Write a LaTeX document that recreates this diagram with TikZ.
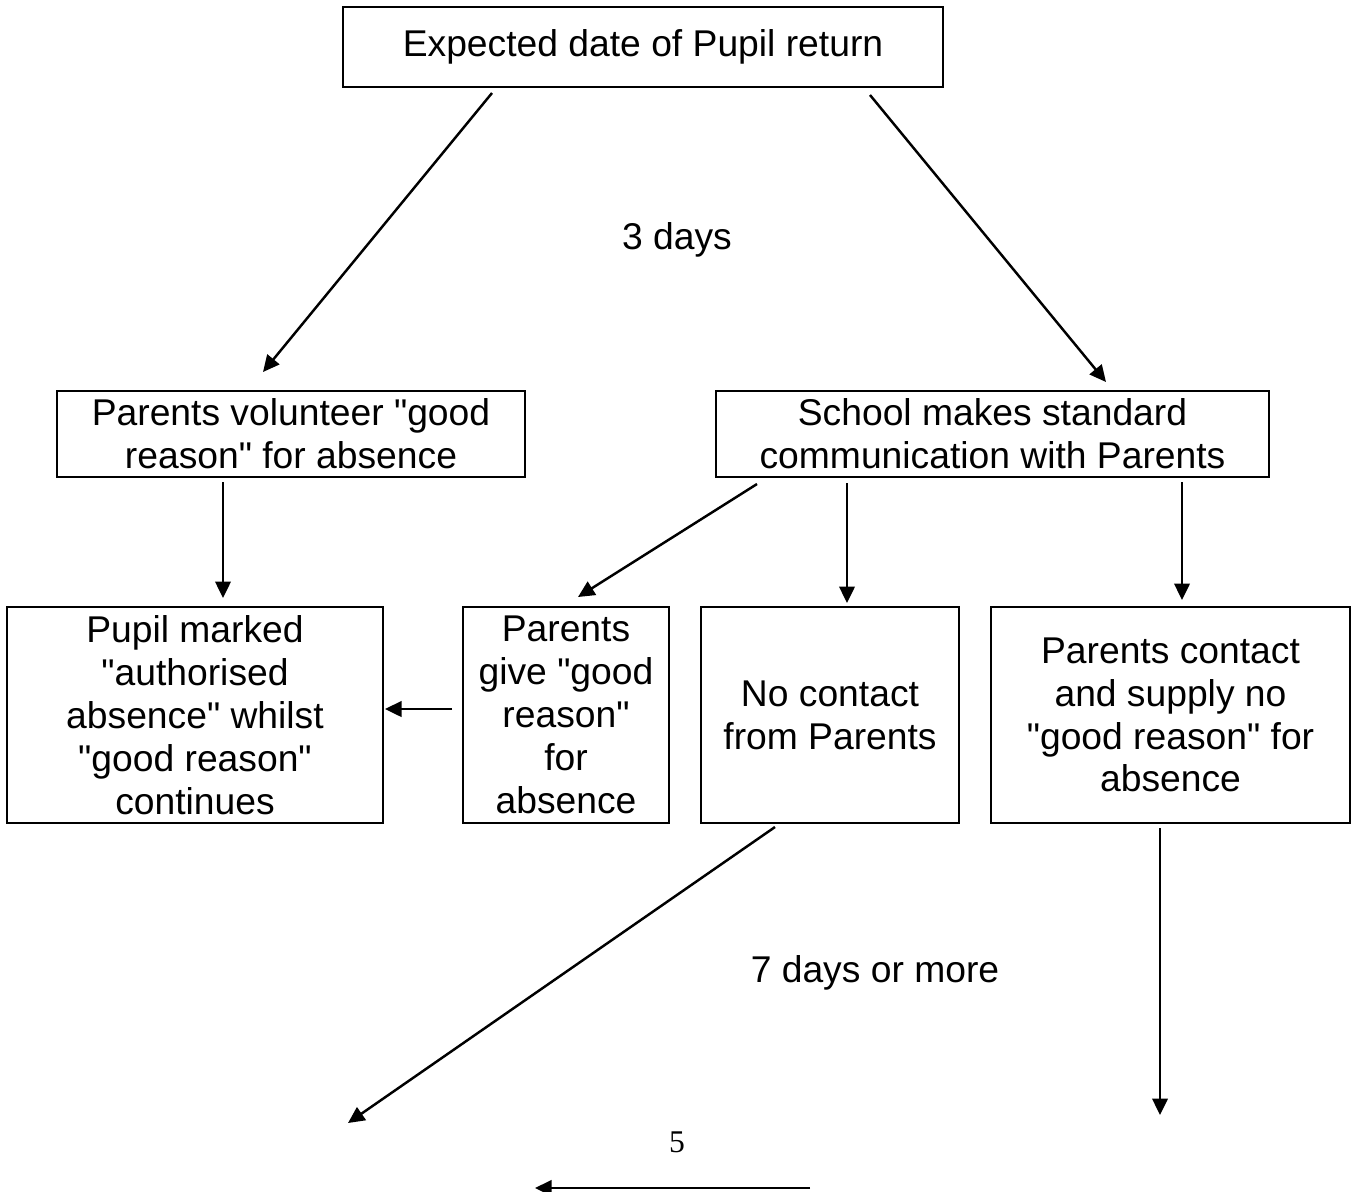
\documentclass[tikz,border=0pt]{standalone}
\usepackage{fontspec}
\setmainfont{Liberation Sans}[Ligatures=TeXOff]
\newfontfamily\pagenumfont{Liberation Serif}
\usetikzlibrary{arrows.meta,calc}

\begin{document}
\begin{tikzpicture}[x=0.02cm,y=-0.02cm,
		box/.style={draw,line width=1.4pt,align=center,inner sep=0pt,outer sep=0pt,font=\fontsize{21.2}{24.4}\selectfont},
		lbl/.style={font=\fontsize{21.2}{24.4}\selectfont},
		arr/.style={-{Triangle[length=0.33cm,width=0.31cm]},line width=1.4pt}]
		\useasboundingbox (0,0) rectangle (1352,1191);
		
		% boxes
		\node[box,minimum width=600*0.02cm,minimum height=80*0.02cm] (top) at (643,47) {Expected date of Pupil return};
		\node[box,minimum width=468*0.02cm,minimum height=86*0.02cm] (pv) at (291,434) {Parents volunteer "good\\reason" for absence};
		\node[box,minimum width=553*0.02cm,minimum height=86*0.02cm] (sm) at (992.5,434) {School makes standard\\communication with Parents};
		\node[box,minimum width=376*0.02cm,minimum height=216*0.02cm] (pm) at (195,715) {Pupil marked\\"authorised\\absence" whilst\\"good reason"\\continues};
		\node[box,minimum width=206*0.02cm,minimum height=216*0.02cm] (pg) at (566,715) {Parents\\give "good\\reason"\\for\\absence};
		\node[box,minimum width=258*0.02cm,minimum height=216*0.02cm] (nc) at (830,715) {No contact\\from Parents};
		\node[box,minimum width=359*0.02cm,minimum height=216*0.02cm] (pc) at (1170.5,715) {Parents contact\\and supply no\\"good reason" for\\absence};
		
		% labels
		\node[lbl] (three) at (677,240) {3 days};
		\node[lbl] (seven) at (875,973) {7 days or more};
		\node[font=\pagenumfont\fontsize{18}{20}\selectfont] (pnum) at (677,1142) {5};
		
		% loose ends
		\coordinate (ncend) at (348,1123);
		\coordinate (pcend) at (1160,1115);
		\coordinate (btmr) at (810,1188);
		\coordinate (btml) at (535,1188);
		
		% arrows
		\draw[arr] ($(top.south west)+(149,6)$) -- ($(pv.north west)+(206,-19)$);
		\draw[arr] ($(top.south east)+(-73,8)$) -- ($(sm.north)+(113.5,-9)$);
		\draw[arr] ($(pv.south)+(-68,5)$) -- ($(pm.north)+(28,-9)$);
		\draw[arr] ($(sm.south west)+(41,7)$) -- ($(pg.north)+(12,-10)$);
		\draw[arr] ($(sm.south west)+(131,6)$) -- ($(nc.north)+(17,-4)$);
		\draw[arr] ($(sm.south east)+(-87,5)$) -- ($(pc.north)+(11.5,-7)$);
		\draw[arr] ($(pg.west)+(-11,-6)$) -- ($(pm.east)+(2,-6)$);
		\draw[arr] ($(nc.south)+(-55,4)$) -- (ncend);
		\draw[arr] ($(pc.south)+(-10.5,5)$) -- (pcend);
		\draw[arr] (btmr) -- (btml);
		
\end{tikzpicture}
\end{document}
